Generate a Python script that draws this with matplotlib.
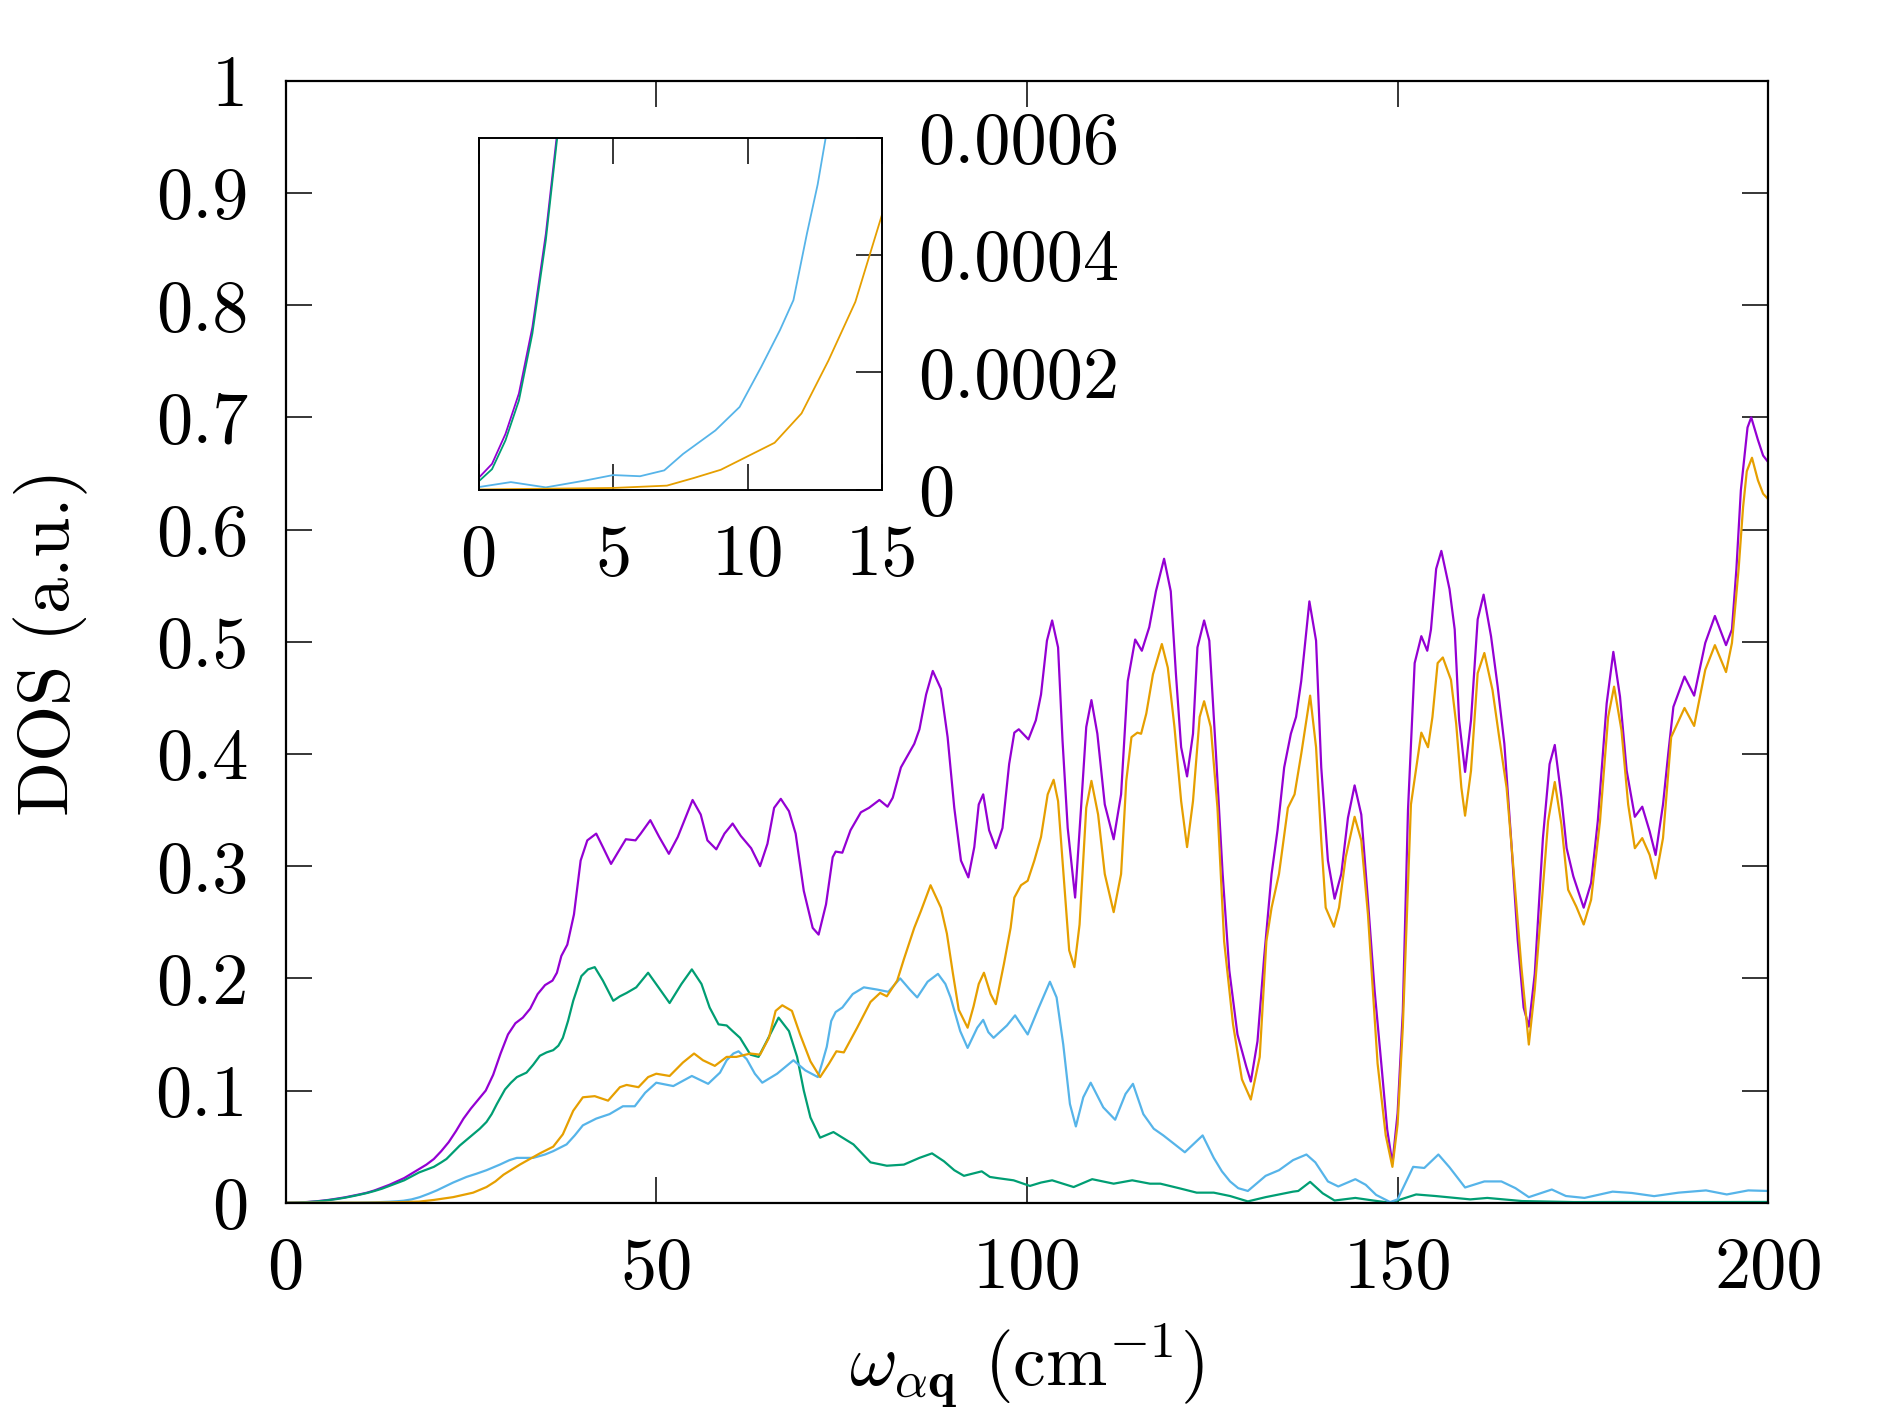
import matplotlib
matplotlib.use("Agg")
import matplotlib.pyplot as plt
import numpy as np

plt.rcParams['font.family'] = 'serif'
plt.rcParams['font.serif'] = ['cmr10', 'DejaVu Serif']
plt.rcParams['mathtext.fontset'] = 'cm'
plt.rcParams['axes.formatter.use_mathtext'] = True

# ---------------- data (main panel) ----------------
total_x = [0, 1, 2, 3, 4, 5, 6, 7, 8, 9, 10, 11, 12, 13, 14, 15, 16, 17, 18, 19, 20,
           21, 22, 23, 24, 25, 26, 27, 28, 29, 30, 31, 32, 33, 34, 35, 36, 36.6, 37.2, 38.0,
           38.9, 39.8, 40.7, 41.9, 42.8, 43.9, 44.8, 45.9, 47.2, 47.9, 49.2, 50.4, 51.7, 52.9,
           54.9, 56.0, 56.9, 58.1, 59.2, 60.3, 61.4, 62.8, 64.0, 65.0, 65.9, 66.8, 67.9, 68.8,
           69.9, 71.1, 71.9, 72.9, 73.8, 74.2, 75.1, 76.2, 77.6, 78.7, 80.1, 81.2, 81.9, 83.0,
           84.8, 85.5, 86.4, 87.3, 88.4, 89.3, 90.2, 91.1, 92.1, 92.9, 93.5, 94.1, 94.9, 95.8,
           96.7, 97.6, 98.3, 98.9, 100.2, 101.2, 101.9, 102.7, 103.4, 104.2, 104.8, 105.5,
           106.5, 107.3, 108.0, 108.7, 109.5, 110.5, 111.7, 112.7, 113.6, 114.6, 115.5, 116.5,
           117.4, 118.5, 119.4, 120.1, 120.8, 121.6, 122.4, 123.0, 123.9, 124.6, 125.5, 126.4,
           127.3, 128.4, 129.6, 130.2, 131.1, 132.0, 133.0, 133.8, 134.7, 135.6, 136.3, 137.0,
           138.1, 139.0, 139.7, 140.6, 141.5, 142.4, 143.3, 144.2, 145.1, 146.0, 146.9, 147.8,
           148.6, 149.3, 150.0, 150.7, 151.4, 152.3, 153.2, 154.0, 154.5, 155.2, 155.9, 157.0,
           157.7, 158.3, 159.1, 159.9, 160.8, 161.6, 162.6, 163.5, 164.4, 165.3, 166.2, 167.0,
           167.7, 168.5, 169.6, 170.5, 171.2, 172.1, 172.8, 173.7, 175.1, 176.1, 177.0, 178.2,
           179.1, 180.0, 180.9, 182.0, 183.0, 184.0, 184.8, 185.8, 186.5, 187.2, 188.7, 190.0,
           191.5, 192.8, 194.3, 195.1, 195.7, 196.3, 197.2, 197.7, 198.6, 199.3, 200]
total_y = [0.00002, 0.0001, 0.0003, 0.0007, 0.0012, 0.0019, 0.0027, 0.0037, 0.0048, 0.0061,
           0.0075, 0.009, 0.011, 0.0135, 0.016, 0.019, 0.022, 0.026, 0.030, 0.034, 0.039,
           0.046, 0.054, 0.064, 0.075, 0.084, 0.092, 0.100, 0.114, 0.133, 0.150, 0.160, 0.165,
           0.173, 0.186, 0.194, 0.198, 0.205, 0.220, 0.230,
           0.257, 0.305, 0.323, 0.329, 0.317, 0.302, 0.312, 0.324, 0.323, 0.329, 0.341, 0.326,
           0.311, 0.326, 0.359, 0.346, 0.323, 0.315, 0.329, 0.338, 0.327, 0.316, 0.300, 0.320,
           0.352, 0.360, 0.349, 0.329, 0.278, 0.245, 0.239, 0.266, 0.308, 0.313, 0.312, 0.332,
           0.348, 0.352, 0.359, 0.353, 0.361, 0.388, 0.409, 0.422, 0.453, 0.474, 0.458, 0.415,
           0.352, 0.305, 0.290, 0.317, 0.355, 0.364, 0.332, 0.316, 0.334, 0.391, 0.419, 0.422,
           0.413, 0.430, 0.453, 0.501, 0.519, 0.495, 0.412, 0.334, 0.272, 0.352, 0.424, 0.448,
           0.418, 0.355, 0.324, 0.364, 0.465, 0.502, 0.492, 0.513, 0.545, 0.574, 0.545, 0.471,
           0.406, 0.380, 0.418, 0.495, 0.519, 0.501, 0.400, 0.293, 0.207, 0.150, 0.121, 0.108,
           0.144, 0.219, 0.293, 0.332, 0.388, 0.418, 0.433, 0.465, 0.536, 0.501, 0.388, 0.305,
           0.271, 0.293, 0.343, 0.372, 0.346, 0.269, 0.189, 0.124, 0.065, 0.035, 0.080, 0.170,
           0.350, 0.481, 0.505, 0.492, 0.511, 0.565, 0.581, 0.547, 0.511, 0.430, 0.384, 0.430,
           0.520, 0.542, 0.505, 0.460, 0.409, 0.325, 0.234, 0.174, 0.157, 0.204, 0.325, 0.391,
           0.408, 0.361, 0.316, 0.291, 0.263, 0.285, 0.340, 0.445, 0.491, 0.451, 0.385, 0.344,
           0.353, 0.331, 0.310, 0.355, 0.400, 0.442, 0.469, 0.452, 0.499, 0.523, 0.497, 0.511,
           0.565, 0.635, 0.691, 0.700, 0.680, 0.666, 0.660]

green_x = [0, 1, 2, 3, 4, 5, 6, 7, 8, 9, 10, 11, 12, 13, 14, 15, 16, 17, 18, 19, 20, 21,
           21.7, 22.6, 23.5, 24.4, 25.3, 26.2, 27.1, 27.8, 28.5, 29.6, 30.4, 31.2, 32.5, 33.4,
           34.3, 35.2, 36.1, 36.8, 37.4, 38.1, 38.8, 39.9, 40.8, 41.7, 42.8, 44.2, 45.1, 46.0,
           47.3, 48.9, 50.3, 51.8, 53.4, 54.8, 56.1, 57.2, 58.4, 59.5, 60.3, 61.3, 62.7, 63.8,
           64.9, 66.5, 67.9, 69.0, 69.9, 70.8, 72.1, 73.9, 76.6, 78.9, 81.1, 83.4, 85.5, 87.2,
           88.8, 90.2, 91.5, 93.9, 95.0, 96.0, 98.2, 100.4, 101.9, 103.4, 106.3, 108.8, 111.7,
           114.2, 116.6, 118.0, 120.5, 122.9, 125.2, 127.4, 129.8, 132.2, 135.9, 136.6, 138.2,
           139.9, 141.5, 144.3, 146.7, 149.0, 152.5, 155.1, 159.8, 162.1, 166.8, 173.8, 180,
           190, 200]
green_y = [0.00001, 0.000085, 0.00027, 0.0006, 0.0011, 0.0017, 0.0025, 0.0034, 0.0045,
           0.0058, 0.0072, 0.0087, 0.0105, 0.0125, 0.015, 0.0175, 0.020, 0.0235, 0.027,
           0.0295, 0.032, 0.036, 0.039, 0.045, 0.051, 0.056, 0.061, 0.066, 0.072, 0.079,
           0.088, 0.101, 0.107, 0.112, 0.116, 0.123, 0.131, 0.134, 0.136, 0.140, 0.147, 0.162,
           0.180, 0.202, 0.208, 0.210, 0.198, 0.180, 0.184, 0.187, 0.192, 0.205, 0.192, 0.178,
           0.195, 0.208, 0.195, 0.174, 0.159, 0.158, 0.153, 0.147, 0.132, 0.130, 0.144, 0.165,
           0.153, 0.130, 0.100, 0.076, 0.058, 0.063, 0.052, 0.036, 0.033, 0.034, 0.040, 0.044,
           0.037, 0.029, 0.024, 0.028, 0.023, 0.022, 0.020, 0.015, 0.018, 0.020, 0.014, 0.021,
           0.017, 0.020, 0.017, 0.017, 0.013, 0.009, 0.009, 0.006, 0.0012, 0.005, 0.0099,
           0.0105, 0.0186, 0.0084, 0.002, 0.0043, 0.002, 0.0, 0.0074, 0.006, 0.003, 0.0043,
           0.0015, 0.0006, 0.0007, 0.0006, 0.0007]

cyan_x = [0, 1.2, 2.5, 4, 5, 6, 6.9, 7.6, 8.8, 9.7, 10.5, 11.2, 11.7, 12.2, 12.6, 12.9, 14,
          15, 15.9, 17, 18.1, 19.3, 20.4, 21.5, 22.6, 24.4, 25.8, 27.1, 28.9, 30.2, 31.2,
          33.4, 35.0, 36.1, 37.9, 39.0, 40.1, 41.9, 43.7, 45.5, 47.1, 48.5, 50.0, 52.3, 54.8,
          57.0, 58.6, 59.5, 60.4, 61.1, 62.2, 63.3, 64.3, 66.3, 68.5, 70.1, 71.8, 72.4, 73.0,
          73.6, 74.2, 75.1, 76.5, 78.0, 79.8, 81.3, 82.9, 84.2, 85.2, 86.6, 88.0, 89.0, 89.7,
          91.0, 92.0, 93.3, 94.1, 94.8, 95.5, 97.3, 98.4, 100.1, 101.6, 103.1, 104.0, 104.9,
          105.8, 106.6, 107.6, 108.6, 110.3, 111.9, 113.3, 114.3, 115.7, 117.1, 118.4, 121.3,
          123.7, 125.2, 126.3, 127.4, 128.5, 129.8, 132.2, 134.0, 135.9, 137.7, 138.9, 140.6,
          142.0, 144.3, 145.7, 147.1, 149.0, 150.0, 152.1, 153.6, 155.5, 157.0, 159.1, 161.7,
          164.0, 165.9, 167.7, 170.8, 172.7, 175.2, 179.0, 181.6, 184.6, 187.9, 191.6, 194.4,
          197.3, 200]
cyan_y = [0.0000045, 0.000013, 0.000004, 0.000016, 0.000025, 0.000023, 0.000033, 0.000061,
          0.000101, 0.000141, 0.000209, 0.000272, 0.000323, 0.000436, 0.00052, 0.0006, 0.0009,
          0.0013, 0.0018, 0.003, 0.005, 0.008, 0.011, 0.0145, 0.018, 0.023, 0.026, 0.029,
          0.034, 0.038, 0.040, 0.040, 0.043, 0.046, 0.052, 0.060, 0.069, 0.075, 0.079, 0.086,
          0.086, 0.098, 0.107, 0.104, 0.113, 0.106, 0.116, 0.127, 0.133, 0.135, 0.128, 0.115,
          0.107, 0.115, 0.127, 0.118, 0.112, 0.125, 0.139, 0.162, 0.170, 0.174, 0.186, 0.192,
          0.190, 0.188, 0.200, 0.190, 0.183, 0.197, 0.204, 0.195, 0.183, 0.153, 0.138, 0.156,
          0.163, 0.152, 0.147, 0.158, 0.167, 0.150, 0.174, 0.197, 0.183, 0.141, 0.088, 0.068,
          0.094, 0.107, 0.085, 0.074, 0.097, 0.106, 0.079, 0.066, 0.060, 0.045, 0.060, 0.040,
          0.028, 0.019, 0.013, 0.0105, 0.024, 0.029, 0.038, 0.043, 0.036, 0.019, 0.0145, 0.021,
          0.016, 0.007, 0.0006, 0.003, 0.032, 0.031, 0.043, 0.0316, 0.0136, 0.019, 0.019,
          0.013, 0.005, 0.0118, 0.006, 0.0043, 0.0099, 0.0087, 0.0059, 0.009, 0.011, 0.0074,
          0.011, 0.0105]

orange_x = [0, 5, 7, 8, 9, 10, 11, 12, 13, 14, 15, 16, 18, 20, 22.6, 25.3, 27.1, 28.3, 29.4,
            31.6, 34.3, 36.1, 37.4, 38.8, 40.1, 41.7, 43.5, 45.1, 46.0, 47.6, 48.9, 50.0, 51.8,
            53.6, 55.1, 56.3, 57.9, 59.5, 60.8, 62.7, 64.0, 65.2, 66.1, 67.0, 68.3, 69.4, 70.8,
            72.1, 73.3, 74.3, 75.3, 77.1, 78.9, 80.2, 81.1, 82.5, 83.4, 84.8, 85.7, 87.0, 88.4,
            89.2, 90.0, 90.8, 92.0, 92.8, 93.5, 94.2, 95.1, 95.8, 96.9, 97.8, 98.3, 99.2, 100.1,
            101.0, 101.9, 102.8, 103.6, 104.2, 105.1, 105.7, 106.4, 107.1, 108.0, 108.7, 109.6,
            110.5, 111.7, 112.7, 113.4, 114.1, 114.9, 115.4, 116.1, 117.0, 118.2, 119.0, 119.9,
            120.8, 121.6, 122.4, 123.3, 123.9, 124.8, 125.7, 126.6, 127.8, 129.0, 130.2, 131.4,
            132.3, 133.0, 134.0, 135.2, 136.1, 137.0, 138.2, 139.0, 139.7, 140.3, 141.4, 142.1,
            143.0, 144.2, 145.1, 146.0, 147.3, 148.4, 149.3, 150.0, 150.7, 151.8, 153.2, 154.1,
            154.7, 155.4, 156.1, 157.2, 157.9, 158.6, 159.1, 159.9, 160.8, 161.7, 162.8, 163.7,
            164.7, 165.6, 166.7, 167.7, 168.5, 169.4, 170.3, 171.2, 172.1, 173.0, 174.1, 175.1,
            176.1, 177.3, 178.4, 179.2, 180.2, 181.1, 182.0, 183.0, 184.0, 184.8, 185.8, 186.9,
            188.7, 190.0, 191.5, 192.8, 194.3, 195.1, 196.0, 196.6, 197.1, 197.8, 198.6, 199.3,
            200]
orange_y = [0.0000005, 0.000003, 0.000007, 0.00002, 0.000034, 0.000057, 0.00008, 0.00013,
            0.00022, 0.00032, 0.00047, 0.0006, 0.001, 0.0025, 0.005, 0.009, 0.014, 0.019,
            0.025, 0.034, 0.044, 0.050, 0.061, 0.082, 0.094, 0.095, 0.091, 0.103, 0.105, 0.103,
            0.112, 0.115, 0.113, 0.125, 0.133, 0.127, 0.122, 0.130, 0.130, 0.133, 0.132, 0.147,
            0.171, 0.176, 0.171, 0.150, 0.126, 0.112, 0.124, 0.135, 0.134, 0.156, 0.179, 0.187,
            0.184, 0.198, 0.217, 0.245, 0.260, 0.283, 0.263, 0.240, 0.205, 0.172, 0.156, 0.175,
            0.195, 0.205, 0.186, 0.177, 0.213, 0.245, 0.272, 0.283, 0.287, 0.305, 0.326, 0.364,
            0.377, 0.358, 0.278, 0.225, 0.210, 0.248, 0.352, 0.376, 0.346, 0.293, 0.259, 0.293,
            0.376, 0.415, 0.419, 0.418, 0.436, 0.471, 0.498, 0.477, 0.424, 0.358, 0.317, 0.358,
            0.433, 0.447, 0.424, 0.352, 0.233, 0.159, 0.110, 0.092, 0.130, 0.233, 0.263, 0.293,
            0.352, 0.364, 0.400, 0.452, 0.406, 0.323, 0.263, 0.246, 0.263, 0.308, 0.344, 0.323,
            0.257, 0.124, 0.060, 0.032, 0.070, 0.156, 0.355, 0.419, 0.406, 0.433, 0.481, 0.486,
            0.466, 0.427, 0.370, 0.345, 0.385, 0.472, 0.490, 0.457, 0.415, 0.370, 0.300, 0.210,
            0.141, 0.190, 0.264, 0.340, 0.375, 0.337, 0.279, 0.264, 0.248, 0.270, 0.340, 0.433,
            0.460, 0.421, 0.355, 0.316, 0.325, 0.310, 0.289, 0.325, 0.415, 0.441, 0.425, 0.475,
            0.497, 0.473, 0.499, 0.565, 0.620, 0.652, 0.664, 0.644, 0.632, 0.627]

# ---------------- data (inset, low-frequency detail) ----------------
inset_total_x = [0, 0.5, 1, 1.5, 2, 2.5, 2.9, 3.2]
inset_total_y = [2.0e-5, 4.4e-5, 9.5e-5, 1.64e-4, 2.77e-4, 4.36e-4, 6.0e-4, 7.2e-4]
inset_green_x = [0, 0.5, 1, 1.5, 2, 2.5, 2.9, 3.2]
inset_green_y = [1.4e-5, 3.5e-5, 8.4e-5, 1.52e-4, 2.66e-4, 4.25e-4, 5.9e-4, 7.1e-4]

main_xticks = [0, 50, 100, 150, 200]
main_yticks = [0, 0.1, 0.2, 0.3, 0.4, 0.5, 0.6, 0.7, 0.8, 0.9, 1]
main_ytick_labels = ['0', '0.1', '0.2', '0.3', '0.4', '0.5', '0.6', '0.7', '0.8', '0.9', '1']
inset_xticks = [0, 5, 10, 15]
inset_yticks = [0, 0.0002, 0.0004, 0.0006]
inset_ytick_labels = ['0', '0.0002', '0.0004', '0.0006']

c_total = '#9400D3'
c_green = '#009E73'
c_cyan = '#56B4E9'
c_orange = '#E69F00'

FS = 52

fig = plt.figure(figsize=(18.9, 14.15), dpi=100)
ax = fig.add_axes([0.1511, 0.150, 0.7845, 0.7929])
lw = 1.6
kw = dict(solid_joinstyle='round', solid_capstyle='round')
ax.plot(total_x, total_y, color=c_total, lw=lw, **kw)
ax.plot(green_x, green_y, color=c_green, lw=lw, **kw)
ax.plot(cyan_x, cyan_y, color=c_cyan, lw=lw, **kw)
ax.plot(orange_x, orange_y, color=c_orange, lw=lw, **kw)
ax.set_xlim(0, 200)
ax.set_ylim(0, 1)
ax.set_xticks(main_xticks)
ax.set_xticklabels([str(t) for t in main_xticks])
ax.set_yticks(main_yticks)
ax.set_yticklabels(main_ytick_labels)
ax.tick_params(axis='both', direction='in', length=19, width=1.1, top=True, right=True,
               labelsize=FS)
ax.tick_params(axis='y', pad=27)
ax.tick_params(axis='x', pad=25)
for s in ax.spines.values():
    s.set_linewidth(1.6)

fig.text(0.027, 0.546, 'DOS (a.u.)', rotation=90, ha='center', va='center', fontsize=FS)
fig.text(0.543, 0.034, r'$\omega_{\alpha\mathbf{q}}$ (cm$^{-1}$)', ha='center', va='center',
         fontsize=FS + 1)

# inset
ax2 = fig.add_axes([0.2532, 0.6539, 0.2136, 0.2489])
ilw = 1.3
ax2.plot(inset_total_x, inset_total_y, color=c_total, lw=ilw, **kw)
ax2.plot(inset_green_x, inset_green_y, color=c_green, lw=ilw, **kw)
ax2.plot(cyan_x, cyan_y, color=c_cyan, lw=ilw, **kw)
ax2.plot(orange_x, orange_y, color=c_orange, lw=ilw, **kw)
ax2.set_xlim(0, 15)
ax2.set_ylim(0, 0.0006)
ax2.set_xticks(inset_xticks)
ax2.set_xticklabels([str(t) for t in inset_xticks])
ax2.set_yticks(inset_yticks)
ax2.set_yticklabels(inset_ytick_labels)
ax2.yaxis.tick_right()
ax2.tick_params(axis='y', which='both', left=False, right=True, labelleft=False,
                labelright=True, direction='in', length=19, width=1.1, labelsize=FS, pad=26)
ax2.tick_params(axis='x', direction='in', length=19, width=1.1, top=True, bottom=True,
                labelsize=FS, pad=25)
for s in ax2.spines.values():
    s.set_linewidth(1.4)

fig.savefig('out.png', dpi=100)
